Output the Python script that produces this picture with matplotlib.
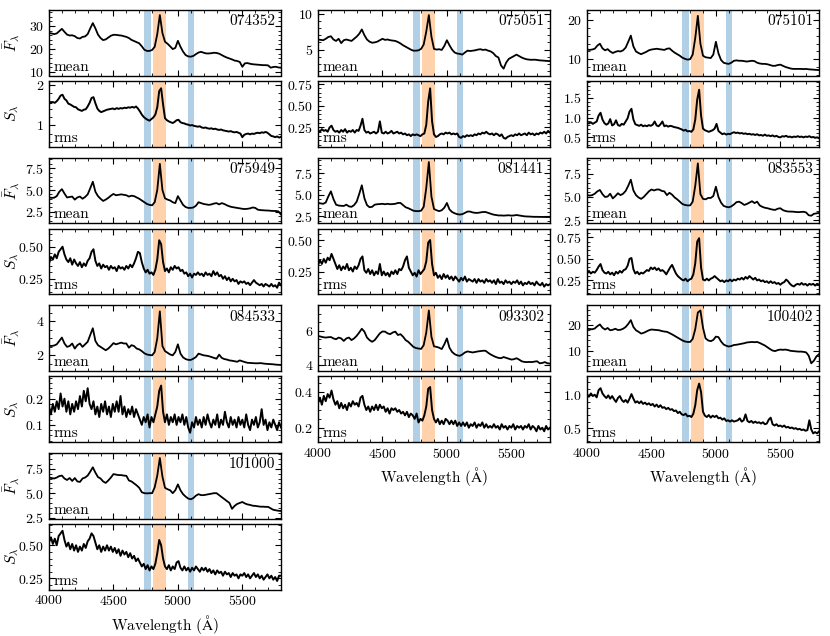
import numpy as np
import matplotlib
matplotlib.use("Agg")
import matplotlib.pyplot as plt
from matplotlib.ticker import MaxNLocator, AutoMinorLocator, MultipleLocator

plt.rcParams.update({
    "font.family": "serif",
    "font.serif": ["cmr10", "DejaVu Serif"],
    "mathtext.fontset": "cm",
    "axes.formatter.use_mathtext": True,
    "font.size": 10,
})

# ---------------- data (mean: 20 A grid 4000-5800, rms: 15 A grid 4000-5800) ----------------
ids = ["074352", "075051", "075101", "075949", "081441", "083553",
       "084533", "093302", "100402", "101000"]

mean_074352 = [
    27.0, 26.8, 26.5, 26.8, 27.8, 28.8, 27.5, 26.3, 25.9, 26.0,
    25.6, 24.8, 24.6, 25.3, 25.5, 26.5, 29.0, 31.3, 29.0, 26.3,
    24.8, 23.9, 24.2, 25.0, 25.8, 26.2, 26.2, 26.0, 25.9, 25.6,
    25.3, 24.8, 24.0, 23.5, 23.0, 22.5, 21.2, 19.7, 19.2, 19.2,
    19.6, 21.0, 26.5, 34.8, 27.0, 23.2, 22.3, 21.2, 20.0, 20.5,
    23.6, 21.0, 18.9, 17.4, 16.8, 16.7, 17.0, 17.8, 18.5, 18.8,
    18.4, 18.1, 18.1, 18.2, 18.4, 18.3, 18.0, 17.4, 16.8, 16.3,
    15.9, 15.5, 15.0, 14.8, 14.4, 12.3, 13.8, 13.9, 13.6, 13.4,
    13.3, 13.2, 13.1, 13.0, 13.0, 12.9, 11.9, 12.2, 12.3, 12.0,
    11.9]
rms_074352 = [
    1.57, 1.55, 1.58, 1.56, 1.60, 1.66, 1.74, 1.76, 1.66, 1.62,
    1.54, 1.52, 1.49, 1.46, 1.45, 1.40, 1.38, 1.36, 1.39, 1.40,
    1.47, 1.56, 1.68, 1.70, 1.55, 1.42, 1.36, 1.33, 1.35, 1.37,
    1.39, 1.40, 1.41, 1.42, 1.40, 1.43, 1.41, 1.43, 1.42, 1.44,
    1.43, 1.45, 1.44, 1.46, 1.44, 1.47, 1.42, 1.35, 1.27, 1.21,
    1.17, 1.14, 1.12, 1.16, 1.20, 1.27, 1.45, 1.85, 1.92, 1.52,
    1.18, 1.13, 1.10, 1.08, 1.06, 1.09, 1.13, 1.14, 1.08, 1.06,
    1.05, 1.03, 1.02, 1.00, 1.01, 0.99, 0.98, 0.97, 0.98, 0.95,
    0.94, 0.95, 0.93, 0.92, 0.93, 0.91, 0.92, 0.90, 0.89, 0.90,
    0.88, 0.87, 0.86, 0.85, 0.86, 0.84, 0.83, 0.84, 0.82, 0.80,
    0.71, 0.77, 0.79, 0.80, 0.78, 0.80, 0.79, 0.81, 0.82, 0.81,
    0.83, 0.82, 0.84, 0.82, 0.78, 0.74, 0.73, 0.71, 0.73, 0.70,
    0.72]

mean_075051 = [
    6.4, 6.35, 6.3, 6.5, 6.75, 6.85, 6.4, 6.2, 6.5, 5.9,
    6.3, 6.4, 6.3, 6.2, 6.5, 6.8, 7.2, 7.8, 7.0, 6.4,
    6.1, 5.95, 6.0, 6.1, 6.3, 6.5, 6.35, 6.4, 6.3, 6.25,
    6.2, 6.05, 5.85, 5.6, 5.4, 5.2, 5.0, 4.85, 4.85, 4.9,
    5.1, 5.7, 7.5, 9.8, 6.8, 5.1, 5.0, 5.05, 4.95, 5.5,
    6.3, 5.6, 5.0, 4.6, 4.45, 4.4, 4.3, 4.6, 4.85, 4.8,
    4.85, 4.9, 5.0, 5.05, 4.95, 5.0, 4.85, 4.75, 4.5, 4.1,
    3.9, 2.8, 2.35, 3.2, 3.7, 3.9, 4.1, 4.3, 4.1, 3.9,
    3.75, 3.65, 3.6, 3.58, 3.6, 3.56, 3.5, 3.48, 3.45, 3.42,
    3.4]
rms_075051 = [
    0.22, 0.20, 0.23, 0.21, 0.22, 0.20, 0.25, 0.27, 0.22, 0.20,
    0.21, 0.19, 0.22, 0.20, 0.23, 0.19, 0.21, 0.20, 0.22, 0.19,
    0.22, 0.21, 0.27, 0.35, 0.22, 0.19, 0.20, 0.18, 0.19, 0.20,
    0.18, 0.20, 0.32, 0.19, 0.18, 0.20, 0.18, 0.19, 0.21, 0.18,
    0.19, 0.20, 0.18, 0.19, 0.17, 0.18, 0.16, 0.17, 0.15, 0.17,
    0.16, 0.17, 0.16, 0.15, 0.17, 0.18, 0.28, 0.55, 0.70, 0.32,
    0.17, 0.14, 0.15, 0.17, 0.18, 0.17, 0.19, 0.18, 0.19, 0.17,
    0.18, 0.17, 0.18, 0.14, 0.13, 0.15, 0.14, 0.16, 0.15, 0.16,
    0.15, 0.17, 0.16, 0.18, 0.17, 0.19, 0.18, 0.20, 0.18, 0.17,
    0.18, 0.16, 0.18, 0.17, 0.15, 0.17, 0.13, 0.12, 0.14, 0.15,
    0.16, 0.15, 0.17, 0.16, 0.18, 0.16, 0.17, 0.18, 0.16, 0.19,
    0.17, 0.18, 0.16, 0.18, 0.17, 0.19, 0.18, 0.20, 0.18, 0.21,
    0.19]

mean_075101 = [
    12.5, 12.4, 12.5, 12.7, 13.5, 14.0, 12.8, 12.3, 12.6, 12.0,
    11.6, 11.9, 12.1, 12.0, 12.3, 13.0, 14.5, 16.1, 13.3, 12.0,
    11.6, 11.3, 11.6, 11.9, 12.3, 12.5, 12.6, 12.7, 12.6, 12.5,
    12.4, 12.7, 12.8, 12.2, 11.7, 11.3, 10.9, 10.4, 10.1, 9.9,
    10.0, 11.2, 15.5, 21.2, 14.0, 10.9, 10.5, 10.4, 10.3, 11.2,
    14.5, 11.5, 9.8, 9.1, 8.9, 8.8, 9.1, 9.6, 9.7, 9.6,
    9.6, 9.5, 9.4, 9.5, 9.6, 9.5, 9.1, 8.9, 8.8, 8.8,
    8.7, 8.5, 8.3, 8.3, 8.5, 8.6, 8.3, 8.0, 7.8, 7.6,
    7.5, 7.5, 7.5, 7.5, 7.45, 7.5, 7.4, 7.35, 7.3, 7.25,
    7.2]
rms_075101 = [
    0.87, 0.85, 0.88, 0.84, 0.87, 0.90, 1.05, 1.12, 0.95, 0.86,
    0.82, 0.85, 0.96, 0.80, 0.83, 0.93, 0.81, 0.79, 0.84, 0.82,
    0.90, 0.98, 1.15, 1.22, 0.95, 0.83, 0.81, 0.79, 0.82, 0.78,
    0.80, 0.78, 0.81, 0.79, 0.82, 0.90, 0.80, 0.78, 0.83, 0.90,
    0.78, 0.80, 0.77, 0.79, 0.78, 0.76, 0.75, 0.74, 0.72, 0.70,
    0.67, 0.69, 0.65, 0.66, 0.64, 0.70, 0.95, 1.45, 1.70, 1.05,
    0.72, 0.68, 0.66, 0.64, 0.66, 0.68, 0.72, 0.84, 0.66, 0.62,
    0.58, 0.60, 0.57, 0.59, 0.58, 0.61, 0.63, 0.61, 0.62, 0.60,
    0.61, 0.59, 0.60, 0.58, 0.59, 0.57, 0.58, 0.56, 0.58, 0.55,
    0.56, 0.54, 0.57, 0.54, 0.55, 0.53, 0.55, 0.52, 0.54, 0.51,
    0.50, 0.53, 0.52, 0.54, 0.51, 0.52, 0.50, 0.52, 0.51, 0.53,
    0.51, 0.52, 0.50, 0.52, 0.51, 0.53, 0.50, 0.51, 0.49, 0.50,
    0.48]

mean_075949 = [
    4.15, 4.1, 4.12, 4.3, 4.8, 5.1, 4.6, 4.15, 4.2, 4.25,
    3.9, 4.15, 4.25, 4.0, 4.2, 4.5, 5.2, 5.95, 4.8, 4.3,
    4.0, 3.75, 3.9, 4.1, 4.35, 4.55, 4.4, 4.45, 4.5, 4.45,
    4.4, 4.25, 4.35, 4.3, 4.15, 4.0, 3.8, 3.6, 3.4, 3.3,
    3.25, 3.6, 5.0, 8.0, 5.0, 4.05, 3.9, 3.8, 3.6, 3.5,
    4.3, 3.8, 3.3, 3.05, 2.95, 2.95, 3.0, 3.2, 3.6, 3.5,
    3.4, 3.35, 3.3, 3.35, 3.45, 3.5, 3.35, 3.5, 3.4, 3.25,
    3.13, 3.05, 3.0, 2.95, 2.9, 2.85, 2.82, 2.85, 2.9, 3.0,
    2.95, 2.75, 2.7, 2.68, 2.66, 2.65, 2.62, 2.6, 2.6, 2.55,
    2.2]
rms_075949 = [
    0.37, 0.42, 0.40, 0.44, 0.41, 0.46, 0.48, 0.50, 0.44, 0.40,
    0.38, 0.41, 0.36, 0.40, 0.37, 0.35, 0.38, 0.34, 0.37, 0.35,
    0.39, 0.41, 0.46, 0.48, 0.39, 0.35, 0.37, 0.33, 0.36, 0.34,
    0.35, 0.32, 0.35, 0.33, 0.34, 0.31, 0.35, 0.33, 0.34, 0.32,
    0.35, 0.33, 0.36, 0.34, 0.37, 0.41, 0.46, 0.45, 0.38, 0.33,
    0.30, 0.32, 0.29, 0.30, 0.28, 0.32, 0.40, 0.55, 0.52, 0.38,
    0.31, 0.33, 0.30, 0.34, 0.32, 0.35, 0.33, 0.34, 0.31, 0.32,
    0.29, 0.30, 0.27, 0.29, 0.26, 0.29, 0.28, 0.30, 0.28, 0.29,
    0.27, 0.30, 0.28, 0.29, 0.27, 0.31, 0.28, 0.30, 0.27, 0.28,
    0.25, 0.27, 0.24, 0.26, 0.23, 0.25, 0.23, 0.24, 0.21, 0.23,
    0.22, 0.23, 0.21, 0.22, 0.20, 0.22, 0.24, 0.22, 0.21, 0.20,
    0.21, 0.19, 0.21, 0.20, 0.19, 0.21, 0.19, 0.20, 0.18, 0.22,
    0.20]

mean_081441 = [
    4.05, 4.0, 3.95, 4.1, 4.8, 5.4, 4.5, 3.85, 3.75, 3.72,
    3.7, 3.85, 3.65, 3.6, 3.8, 4.2, 5.1, 6.1, 4.6, 3.8,
    3.55, 3.6, 3.85, 3.9, 3.92, 3.95, 3.9, 3.95, 3.9, 3.92,
    3.95, 4.05, 4.05, 3.8, 3.55, 3.44, 3.3, 3.15, 3.1, 3.1,
    3.15, 3.6, 5.8, 8.8, 4.8, 3.35, 3.2, 3.1, 3.2, 3.5,
    4.05, 3.3, 3.0, 2.85, 2.75, 2.7, 2.75, 2.9, 3.05, 3.05,
    2.95, 2.9, 2.9, 2.95, 3.0, 3.0, 2.9, 2.8, 2.7, 2.65,
    2.6, 2.6, 2.58, 2.6, 2.62, 2.58, 2.6, 2.65, 2.6, 2.55,
    2.5, 2.48, 2.47, 2.45, 2.44, 2.44, 2.43, 2.43, 2.42, 2.42,
    2.42]
rms_081441 = [
    0.30, 0.34, 0.31, 0.35, 0.32, 0.36, 0.34, 0.39, 0.35, 0.31,
    0.27, 0.30, 0.26, 0.29, 0.27, 0.31, 0.26, 0.28, 0.25, 0.29,
    0.27, 0.30, 0.35, 0.37, 0.26, 0.24, 0.27, 0.23, 0.26, 0.22,
    0.25, 0.23, 0.31, 0.22, 0.25, 0.22, 0.24, 0.21, 0.25, 0.23,
    0.26, 0.23, 0.27, 0.26, 0.29, 0.34, 0.37, 0.28, 0.25, 0.22,
    0.24, 0.21, 0.26, 0.23, 0.25, 0.27, 0.33, 0.48, 0.50, 0.31,
    0.22, 0.24, 0.20, 0.22, 0.19, 0.23, 0.20, 0.22, 0.19, 0.21,
    0.18, 0.21, 0.19, 0.17, 0.20, 0.18, 0.21, 0.17, 0.19, 0.18,
    0.17, 0.19, 0.16, 0.19, 0.17, 0.18, 0.16, 0.19, 0.17, 0.18,
    0.16, 0.18, 0.15, 0.19, 0.16, 0.17, 0.15, 0.18, 0.16, 0.17,
    0.15, 0.17, 0.16, 0.18, 0.15, 0.17, 0.14, 0.16, 0.15, 0.17,
    0.15, 0.16, 0.14, 0.17, 0.15, 0.14, 0.16, 0.13, 0.15, 0.14,
    0.15]

mean_083553 = [
    5.2, 5.15, 5.2, 5.35, 5.6, 5.75, 5.3, 5.0, 5.05, 5.35,
    4.85, 5.1, 5.4, 5.2, 5.35, 5.65, 6.2, 6.85, 5.7, 5.2,
    4.95, 4.8, 5.0, 5.3, 5.6, 5.8, 5.7, 5.8, 5.8, 5.65,
    5.6, 5.2, 5.45, 5.25, 4.95, 4.75, 4.5, 4.25, 4.15, 4.1,
    4.1, 4.5, 6.2, 8.6, 5.3, 4.8, 4.75, 4.9, 4.9, 5.1,
    6.1, 5.0, 4.4, 4.05, 3.95, 3.9, 4.0, 4.2, 4.45, 4.5,
    4.35, 4.15, 4.25, 4.4, 4.55, 4.35, 4.5, 4.1, 3.95, 3.85,
    3.8, 3.72, 3.65, 3.62, 3.75, 3.8, 3.6, 3.5, 3.45, 3.44,
    3.43, 3.4, 3.38, 3.4, 3.42, 3.35, 3.05, 3.0, 3.2, 3.25,
    3.3]
rms_083553 = [
    0.33, 0.36, 0.33, 0.35, 0.34, 0.37, 0.41, 0.44, 0.37, 0.34,
    0.33, 0.35, 0.32, 0.34, 0.31, 0.35, 0.33, 0.36, 0.34, 0.37,
    0.38, 0.42, 0.50, 0.51, 0.38, 0.33, 0.35, 0.32, 0.34, 0.33,
    0.35, 0.37, 0.36, 0.40, 0.38, 0.40, 0.37, 0.39, 0.36, 0.37,
    0.35, 0.32, 0.36, 0.40, 0.43, 0.38, 0.33, 0.30, 0.28, 0.26,
    0.25, 0.27, 0.24, 0.26, 0.27, 0.32, 0.45, 0.70, 0.74, 0.40,
    0.26, 0.25, 0.27, 0.25, 0.27, 0.28, 0.30, 0.28, 0.26, 0.24,
    0.25, 0.23, 0.25, 0.24, 0.26, 0.24, 0.26, 0.25, 0.27, 0.26,
    0.28, 0.26, 0.29, 0.27, 0.30, 0.28, 0.26, 0.28, 0.25, 0.26,
    0.24, 0.25, 0.23, 0.24, 0.22, 0.24, 0.22, 0.23, 0.21, 0.22,
    0.20, 0.22, 0.23, 0.26, 0.24, 0.21, 0.19, 0.18, 0.20, 0.21,
    0.20, 0.22, 0.20, 0.21, 0.19, 0.21, 0.20, 0.21, 0.19, 0.21,
    0.20]

mean_084533 = [
    2.57, 2.55, 2.58, 2.65, 2.85, 3.05, 2.7, 2.5, 2.55, 2.7,
    2.4, 2.6, 2.7, 2.5, 2.65, 2.8, 3.2, 3.6, 2.85, 2.6,
    2.5, 2.4, 2.3, 2.4, 2.55, 2.72, 2.65, 2.7, 2.75, 2.7,
    2.7, 2.45, 2.6, 2.55, 2.4, 2.35, 2.25, 2.12, 2.05, 2.02,
    2.0, 2.2, 3.0, 4.6, 2.55, 2.25, 2.15, 2.05, 2.0, 2.2,
    2.65, 2.1, 1.88, 1.78, 1.73, 1.73, 1.8, 1.9, 2.1, 2.05,
    2.0, 1.98, 1.95, 1.9, 1.85, 1.8, 2.04, 1.85, 1.78, 1.75,
    1.7, 1.68, 1.65, 1.62, 1.7, 1.65, 1.6, 1.56, 1.55, 1.54,
    1.53, 1.53, 1.54, 1.52, 1.5, 1.49, 1.48, 1.47, 1.45, 1.44,
    1.43]
rms_084533 = [
    0.17, 0.14, 0.18, 0.15, 0.19, 0.16, 0.22, 0.17, 0.20, 0.15,
    0.19, 0.14, 0.18, 0.15, 0.19, 0.16, 0.21, 0.17, 0.23, 0.19,
    0.24, 0.18, 0.16, 0.19, 0.14, 0.17, 0.13, 0.18, 0.15, 0.19,
    0.14, 0.17, 0.13, 0.18, 0.15, 0.19, 0.15, 0.21, 0.14, 0.17,
    0.13, 0.16, 0.14, 0.17, 0.13, 0.16, 0.14, 0.12, 0.10, 0.13,
    0.11, 0.14, 0.09, 0.13, 0.11, 0.14, 0.17, 0.23, 0.25, 0.15,
    0.11, 0.14, 0.10, 0.13, 0.11, 0.14, 0.10, 0.13, 0.11, 0.14,
    0.10, 0.13, 0.09, 0.07, 0.11, 0.09, 0.13, 0.10, 0.12, 0.09,
    0.13, 0.10, 0.14, 0.11, 0.09, 0.12, 0.10, 0.14, 0.09, 0.12,
    0.10, 0.15, 0.11, 0.09, 0.13, 0.10, 0.12, 0.09, 0.13, 0.10,
    0.12, 0.09, 0.14, 0.10, 0.08, 0.12, 0.10, 0.13, 0.09, 0.11,
    0.16, 0.10, 0.12, 0.08, 0.11, 0.09, 0.12, 0.10, 0.08, 0.11,
    0.09]

mean_093302 = [
    5.69, 5.66, 5.62, 5.6, 5.62, 5.63, 5.55, 5.5, 5.6, 5.55,
    5.4, 5.55, 5.6, 5.45, 5.55, 5.7, 5.9, 6.12, 5.95, 5.6,
    5.45, 5.35, 5.45, 5.65, 5.85, 5.96, 5.95, 5.85, 5.8, 5.9,
    5.95, 5.75, 5.8, 5.65, 5.45, 5.35, 5.2, 5.05, 4.98, 4.95,
    4.93, 5.15, 5.9, 7.2, 5.65, 5.08, 5.05, 5.0, 4.92, 5.2,
    5.55, 5.0, 4.75, 4.62, 4.55, 4.52, 4.6, 4.72, 4.78, 4.75,
    4.72, 4.75, 4.78, 4.8, 4.82, 4.82, 4.7, 4.6, 4.52, 4.45,
    4.4, 4.38, 4.45, 4.4, 4.35, 4.3, 4.32, 4.38, 4.3, 4.2,
    4.16, 4.15, 4.16, 4.15, 4.18, 4.2, 4.08, 4.1, 4.15, 4.08,
    4.06]
rms_093302 = [
    0.34, 0.37, 0.33, 0.38, 0.35, 0.39, 0.37, 0.41, 0.36, 0.33,
    0.35, 0.31, 0.34, 0.31, 0.33, 0.30, 0.34, 0.32, 0.35, 0.33,
    0.34, 0.32, 0.37, 0.38, 0.33, 0.30, 0.32, 0.29, 0.32, 0.30,
    0.33, 0.30, 0.33, 0.31, 0.32, 0.29, 0.31, 0.28, 0.31, 0.30,
    0.31, 0.29, 0.30, 0.28, 0.29, 0.27, 0.29, 0.26, 0.28, 0.27,
    0.25, 0.28, 0.23, 0.25, 0.24, 0.27, 0.32, 0.42, 0.43, 0.30,
    0.25, 0.23, 0.25, 0.22, 0.24, 0.22, 0.25, 0.24, 0.22, 0.24,
    0.22, 0.24, 0.21, 0.23, 0.21, 0.23, 0.21, 0.23, 0.20, 0.22,
    0.21, 0.23, 0.20, 0.22, 0.21, 0.23, 0.20, 0.22, 0.20, 0.21,
    0.20, 0.22, 0.20, 0.21, 0.19, 0.22, 0.20, 0.21, 0.19, 0.21,
    0.20, 0.22, 0.19, 0.21, 0.20, 0.21, 0.19, 0.21, 0.20, 0.22,
    0.19, 0.21, 0.20, 0.18, 0.21, 0.19, 0.20, 0.18, 0.21, 0.19,
    0.20]

mean_100402 = [
    18.6, 18.5, 18.4, 18.7, 19.6, 20.3, 19.0, 18.3, 18.9, 18.0,
    18.2, 18.6, 18.1, 18.2, 18.6, 19.3, 20.5, 22.0, 19.3, 18.0,
    17.4, 16.7, 17.0, 17.5, 18.0, 18.3, 18.2, 18.1, 18.0, 17.7,
    17.5, 17.4, 16.9, 16.4, 15.8, 15.2, 14.6, 14.0, 13.6, 13.4,
    13.4, 14.6, 18.5, 25.0, 25.8, 19.0, 14.8, 14.0, 13.7, 14.2,
    15.5, 15.3, 13.6, 12.4, 11.9, 11.6, 11.8, 12.2, 12.3, 12.5,
    12.7, 12.9, 13.2, 13.3, 13.4, 13.3, 13.4, 13.0, 12.5, 12.0,
    11.3, 10.6, 10.0, 9.8, 10.2, 10.4, 10.3, 10.4, 10.2, 9.9,
    9.8, 9.7, 9.6, 9.6, 9.5, 9.3, 8.0, 5.0, 6.0, 7.7,
    8.6]
rms_100402 = [
    1.02, 0.98, 1.03, 0.99, 1.01, 0.97, 1.08, 1.11, 1.03, 0.99,
    0.96, 1.00, 0.95, 0.99, 0.94, 0.90, 0.96, 0.99, 0.93, 0.90,
    0.93, 0.89, 0.95, 1.02, 0.95, 0.89, 0.91, 0.88, 0.91, 0.87,
    0.89, 0.86, 0.88, 0.85, 0.87, 0.83, 0.86, 0.82, 0.85, 0.81,
    0.82, 0.79, 0.81, 0.78, 0.79, 0.76, 0.77, 0.73, 0.75, 0.71,
    0.70, 0.72, 0.68, 0.69, 0.67, 0.72, 0.85, 1.08, 1.18, 1.05,
    0.75, 0.69, 0.67, 0.70, 0.66, 0.69, 0.67, 0.69, 0.65, 0.66,
    0.63, 0.65, 0.61, 0.62, 0.60, 0.62, 0.60, 0.61, 0.62, 0.65,
    0.60, 0.62, 0.71, 0.61, 0.59, 0.61, 0.58, 0.60, 0.58, 0.59,
    0.57, 0.59, 0.56, 0.57, 0.63, 0.66, 0.56, 0.54, 0.56, 0.53,
    0.54, 0.52, 0.54, 0.51, 0.52, 0.50, 0.51, 0.49, 0.50, 0.48,
    0.49, 0.47, 0.48, 0.46, 0.47, 0.62, 0.48, 0.42, 0.44, 0.42,
    0.45]

mean_101000 = [
    6.6, 6.55, 6.5, 6.6, 6.75, 6.8, 6.5, 6.35, 6.55, 6.25,
    6.55, 6.2, 6.15, 6.5, 6.6, 6.8, 7.2, 7.65, 7.1, 6.65,
    6.5, 6.2, 6.05, 6.3, 6.6, 6.95, 6.9, 6.85, 6.85, 6.8,
    6.78, 6.3, 6.2, 6.0, 5.8, 5.55, 5.1, 5.0, 4.98, 5.0,
    5.0, 5.6, 6.8, 8.6, 6.7, 5.55, 5.4, 5.3, 5.0, 5.3,
    5.9, 5.3, 4.9, 4.65, 4.45, 4.38, 4.5, 4.75, 4.9, 4.8,
    4.8, 4.85, 4.9, 4.95, 5.0, 5.0, 4.8, 4.6, 4.4, 4.2,
    4.0, 3.4, 3.7, 3.9, 4.0, 4.1, 3.95, 3.85, 3.8, 3.72,
    3.7, 3.66, 3.62, 3.62, 3.6, 3.6, 3.45, 3.3, 3.25, 3.2,
    3.18]
rms_101000 = [
    0.52, 0.56, 0.51, 0.55, 0.50, 0.57, 0.59, 0.61, 0.54, 0.49,
    0.52, 0.47, 0.51, 0.46, 0.50, 0.45, 0.49, 0.46, 0.51, 0.48,
    0.53, 0.55, 0.59, 0.57, 0.52, 0.47, 0.50, 0.45, 0.49, 0.46,
    0.50, 0.46, 0.49, 0.45, 0.48, 0.44, 0.47, 0.42, 0.46, 0.43,
    0.45, 0.41, 0.44, 0.40, 0.42, 0.38, 0.40, 0.37, 0.34, 0.36,
    0.32, 0.35, 0.31, 0.34, 0.32, 0.36, 0.44, 0.54, 0.50, 0.40,
    0.34, 0.32, 0.35, 0.31, 0.34, 0.32, 0.37, 0.38, 0.33, 0.31,
    0.34, 0.31, 0.33, 0.30, 0.33, 0.31, 0.34, 0.32, 0.30, 0.33,
    0.31, 0.33, 0.30, 0.32, 0.29, 0.31, 0.28, 0.31, 0.29, 0.30,
    0.27, 0.30, 0.28, 0.29, 0.26, 0.29, 0.27, 0.28, 0.25, 0.28,
    0.27, 0.29, 0.26, 0.28, 0.25, 0.27, 0.29, 0.26, 0.28, 0.25,
    0.27, 0.24, 0.26, 0.28, 0.25, 0.27, 0.24, 0.26, 0.23, 0.27,
    0.27]

mean_ylims = [(8.5, 37), (1.4, 10.5), (5.8, 22.7), (1.2, 8.7), (1.7, 9.3),
              (2.2, 9.2), (1.08, 4.95), (3.63, 7.5), (2.0, 27.8), (2.4, 9.1)]
rms_ylims = [(0.48, 2.1), (0.03, 0.785), (0.27, 1.92), (0.13, 0.64), (0.07, 0.59),
             (0.09, 0.85), (0.035, 0.285), (0.12, 0.49), (0.29, 1.29), (0.165, 0.66)]

means = [mean_074352, mean_075051, mean_075101, mean_075949, mean_081441,
         mean_083553, mean_084533, mean_093302, mean_100402, mean_101000]
rmss = [rms_074352, rms_075051, rms_075101, rms_075949, rms_081441,
        rms_083553, rms_084533, rms_093302, rms_100402, rms_101000]

# windows (Angstrom)
blue_windows = [(4740, 4790), (5075, 5125)]
orange_window = (4810, 4910)

# grid position (column, group) of each object
positions = [(0, 0), (1, 0), (2, 0), (0, 1), (1, 1), (2, 1), (0, 2), (1, 2), (2, 2), (0, 3)]
bottom_of_column = {0: 3, 1: 2, 2: 2}

# ---------------- figure ----------------
W, H = 830, 636
fig = plt.figure(figsize=(W / 100, H / 100), dpi=100)

col_left = [49, 318, 587]
ax_w = 232
group_top0 = 10
group_step = 147.7
panel_h = 65.5
inner_gap = 5.5

blue_c = (0.694, 0.812, 0.898)
orange_c = (1.0, 0.824, 0.671)


def make_ax(left_px, top_px):
    return fig.add_axes([left_px / W, 1 - (top_px + panel_h) / H, ax_w / W, panel_h / H])


def style(ax, ylim, show_x):
    ax.set_xlim(4000, 5800)
    ax.set_ylim(*ylim)
    for (a, b) in blue_windows:
        ax.axvspan(a, b, color=blue_c, lw=0, zorder=0)
    ax.axvspan(*orange_window, color=orange_c, lw=0, zorder=0)
    ax.xaxis.set_major_locator(MultipleLocator(500))
    ax.xaxis.set_minor_locator(MultipleLocator(100))
    ax.yaxis.set_major_locator(MaxNLocator(nbins=2, steps=[1, 2, 2.5, 5, 10]))
    ax.yaxis.set_minor_locator(AutoMinorLocator())
    ax.tick_params(which="both", direction="in", top=True, right=True, labelsize=10)
    ax.tick_params(which="major", length=4, width=0.8)
    ax.tick_params(which="minor", length=2, width=0.6)
    if not show_x:
        ax.tick_params(labelbottom=False)
    for s in ax.spines.values():
        s.set_linewidth(1.0)


for i, name in enumerate(ids):
    col, grp = positions[i]
    top = group_top0 + grp * group_step
    ax_m = make_ax(col_left[col], top)
    ax_r = make_ax(col_left[col], top + panel_h + inner_gap)

    m = np.asarray(means[i])
    r = np.asarray(rmss[i])
    wm = np.linspace(4000, 5800, len(m))
    wr = np.linspace(4000, 5800, len(r))

    ax_m.plot(wm, m, color="black", lw=1.3, zorder=3)
    ax_r.plot(wr, r, color="black", lw=1.4, zorder=3)

    is_bottom = bottom_of_column[col] == grp
    style(ax_m, mean_ylims[i], False)
    style(ax_r, rms_ylims[i], is_bottom)

    ax_m.text(0.975, 0.93, name, transform=ax_m.transAxes, ha="right", va="top", fontsize=11)
    ax_m.text(0.02, 0.03, "mean", transform=ax_m.transAxes, ha="left", va="bottom", fontsize=11)
    ax_r.text(0.02, 0.03, "rms", transform=ax_r.transAxes, ha="left", va="bottom", fontsize=11)

    if col == 0:
        ax_m.set_ylabel(r"$\bar{F}_\lambda$", fontsize=11)
        ax_r.set_ylabel(r"$S_\lambda$", fontsize=11)
        ax_m.yaxis.set_label_coords(-0.12, 0.5)
        ax_r.yaxis.set_label_coords(-0.12, 0.5)
    if is_bottom:
        ax_r.set_xlabel(r"Wavelength ($\mathrm{\AA}$)", fontsize=11, labelpad=3)

fig.savefig("out.png", dpi=100)
